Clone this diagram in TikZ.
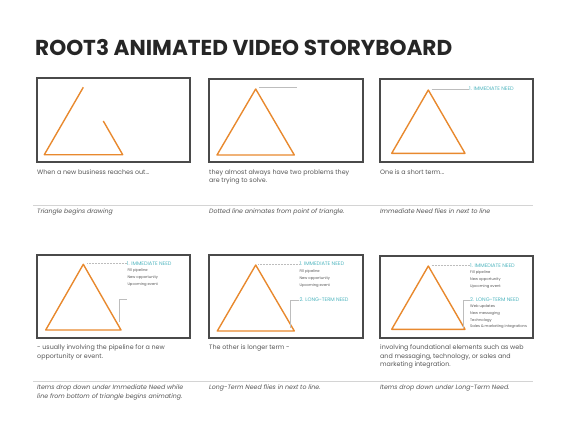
\documentclass[tikz,border=0pt]{standalone}
\usepackage{fontspec}
\setmainfont{Poppins}
\definecolor{tri}{HTML}{E8892E}
\definecolor{need}{HTML}{4BB3BD}
\definecolor{frm}{HTML}{4A4A4A}
\definecolor{txt}{HTML}{555555}
\definecolor{rulecol}{HTML}{D4D4D4}
\definecolor{lead}{HTML}{BDBDBD}
\begin{document}
\begin{tikzpicture}[x=1pt,y=-1pt,
  panel/.style={draw=frm,line width=1.1pt},
  triline/.style={draw=tri,line width=1.4pt,line join=round},
  leader/.style={draw=lead,line width=0.5pt},
  captext/.style={anchor=north west,inner sep=0pt,align=left,text=txt,font=\fontsize{6.35}{8.5}\selectfont},
  notetext/.style={captext,font=\fontsize{6.25}{8.7}\selectfont\itshape},
  needhead/.style={anchor=west,inner sep=0pt,text=need,font=\fontsize{5.1}{5}\selectfont},
  needitem/.style={anchor=west,inner sep=0pt,text=txt,font=\fontsize{3.7}{3}\selectfont}]
 \useasboundingbox (0,0) rectangle (570,440);
 \node[anchor=west,inner sep=0pt,text=black!85,font=\fontsize{21.6}{21}\selectfont\bfseries] (title) at (35,48) {ROOT3 ANIMATED VIDEO STORYBOARD};
 % frames
 \draw[panel] (37,78) rectangle (190,162);
 \draw[panel] (209,79) rectangle (363,162);
 \draw[panel] (380,79) rectangle (533,162);
 \draw[panel] (37,255) rectangle (190,338);
 \draw[panel] (209,255) rectangle (363,338);
 \draw[panel] (380,256) rectangle (533,338);
 % separators
 \draw[rulecol,line width=0.9pt] (33,205) -- (533,205);
 \draw[rulecol,line width=0.9pt] (33,381) -- (533,381);
 % panel 1
 \draw[triline] (83.3,87.3) -- (44.3,154.7) -- (122.7,154.7) -- (103.3,121);
 % panel 2
 \draw[triline] (255.7,89) -- (217,155) -- (294.3,155) -- cycle;
 \draw[leader,line width=0.8pt] (259.3,87.3) -- (297.3,87.3);
 % panel 3
 \draw[triline] (428.3,90) -- (391.7,153.3) -- (465,153.3) -- cycle;
 \node[needhead] (need3) at (469,89) {1. IMMEDIATE NEED};
 \draw[leader] (431.7,89) -- (need3.west);
 % panel 4
 \draw[triline] (83.3,264.3) -- (45.7,330) -- (121,330) -- cycle;
 \node[needhead] (need4) at (126.7,263.3) {1. IMMEDIATE NEED};
 \node[needitem] (fill4) at (127.3,270.7) {Fill pipeline};
 \node[needitem] (opp4) at (127.3,278) {New opportunity};
 \node[needitem] (event4) at (127.3,285) {Upcoming event};
 \coordinate (tick4) at (126.7,299);
 \draw[leader,densely dotted] (87.3,263.3) -- (need4.west);
 \draw[leader] (119,322) |- (tick4);
 % panel 5
 \draw[triline] (255.7,265) -- (217.3,331) -- (294.3,331) -- cycle;
 \node[needhead] (need5) at (299.3,264) {1. IMMEDIATE NEED};
 \node[needitem] (fill5) at (299.3,271.7) {Fill pipeline};
 \node[needitem] (opp5) at (299.3,279) {New opportunity};
 \node[needitem] (event5) at (299.3,286) {Upcoming event};
 \node[needhead] (long5) at (299.3,300) {2. LONG-TERM NEED};
 \draw[leader,densely dotted] (258.3,264) -- (need5.west);
 \draw[leader] (290.7,328) |- (long5.west);
 % panel 6
 \draw[triline] (428.3,266) -- (391.7,329.3) -- (465,329.3) -- cycle;
 \node[needhead] (need6) at (470,265.7) {1. IMMEDIATE NEED};
 \node[needitem] (fill6) at (470,273) {Fill pipeline};
 \node[needitem] (opp6) at (470,279.7) {New opportunity};
 \node[needitem] (event6) at (470,286.7) {Upcoming event};
 \node[needhead] (long6) at (470,300) {2. LONG-TERM NEED};
 \node[needitem] (web6) at (470,307) {Web updates};
 \node[needitem] (msg6) at (470,314) {New messaging};
 \node[needitem] (tech6) at (470,320.7) {Technology};
 \node[needitem] (sales6) at (470,326.7) {Sales \& marketing integrations};
 \draw[leader,densely dotted] (431.7,265.7) -- (need6.west);
 \draw[leader] (463.3,328) |- (long6.west);
 % captions
 \node[captext] (cap1) at (37,169.5) {When a new business reaches out...};
 \node[captext] (cap2) at (209,169.5) {they almost always have two problems they\\are trying to solve.};
 \node[captext] (cap3) at (380,169.5) {One is a short term...};
 \node[captext] (cap4) at (37,344.5) {- usually involving the pipeline for a new\\opportunity or event.};
 \node[captext] (cap5) at (209,344.5) {The other is longer term -};
 \node[captext] (cap6) at (380,344.5) {involving foundational elements such as web\\and messaging, technology, or sales and\\marketing integration.};
 % notes
 \node[notetext] (note1) at (37,208.5) {Triangle begins drawing};
 \node[notetext] (note2) at (209,208.5) {Dotted line animates from point of triangle.};
 \node[notetext] (note3) at (380,208.5) {Immediate Need flies in next to line};
 \node[notetext] (note4) at (37,384.5) {Items drop down under Immediate Need while\\line from bottom of triangle begins animating.};
 \node[notetext] (note5) at (209,384.5) {Long-Term Need flies in next to line.};
 \node[notetext] (note6) at (380,384.5) {Items drop down under Long-Term Need.};
\end{tikzpicture}
\end{document}
